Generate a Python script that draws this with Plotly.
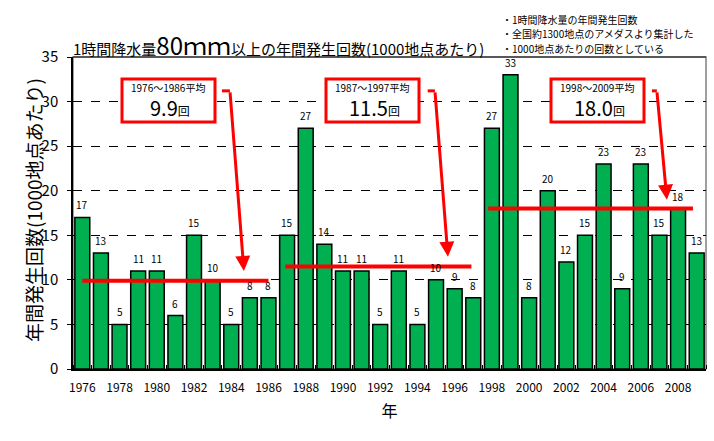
import plotly.graph_objects as go

# ---- data ----
years = list(range(1976, 2010))
counts = [17, 13, 5, 11, 11, 6, 15, 10, 5, 8, 8,
          15, 27, 14, 11, 11, 5, 11, 5, 10, 9, 8,
          27, 33, 8, 20, 12, 15, 23, 9, 23, 15, 18, 13]
periods = [(1976, 1986), (1987, 1997), (1998, 2009)]
tick_years = list(range(1976, 2010, 2))

title_pre = "1時間降水量"
title_big = "80ｍｍ"
title_post = "以上の年間発生回数(1000地点あたり)"
notes = ["・1時間降水量の年間発生回数",
         "・全国約1300地点のアメダスより集計した",
         "・1000地点あたりの回数としている"]
y_title = "年間発生回数(1000地点あたり)"
x_title = "年"

# ---- layout geometry (pixels) ----
W, H = 714, 441
L, R, T, B = 73, 8, 57, 72
PW, PH = W - L - R, H - T - B
FONT = "Noto Sans CJK JP"
GREEN = "#00B050"
RED = "#FF0000"


def px(x):
    return (x - L) / PW


def py(y):
    return (H - B - y) / PH


idx = list(range(len(years)))

fig = go.Figure()
fig.add_trace(go.Bar(
    x=idx, y=counts, width=0.8,
    marker=dict(color=GREEN, line=dict(color="black", width=1.5)),
    hoverinfo="skip"))

shapes = []
annotations = []

# value labels above bars
for i, v in zip(idx, counts):
    annotations.append(dict(x=i, y=v, xref="x", yref="y", text=str(v),
                            showarrow=False, yanchor="bottom", yshift=3,
                            font=dict(size=10, family=FONT, color="black")))

# plot frame (gray top/right)
shapes.append(dict(type="rect", xref="paper", yref="paper", x0=0, x1=1, y0=0, y1=1,
                   line=dict(color="#808080", width=1.5), layer="below"))
shapes.append(dict(type="line", xref="paper", yref="paper", x0=0, x1=1, y0=1, y1=1,
                   line=dict(color="#404040", width=1.5)))

# average lines
line_offsets = [0.0, -0.1, -0.2]
box_lefts = [122, 326, 551]
arrow_tails = [(7.93, 31.2), (18.94, 31.2), (30.86, 31.2)]
arrow_tips = [(8.68, 11.0), (19.64, 12.6), (31.4, 19.0)]
seg_starts = [7.5, 18.55, 30.6]
for k, (a, b) in enumerate(periods):
    vals = [c for yv, c in zip(years, counts) if a <= yv <= b]
    avg = round(sum(vals) / len(vals), 1)
    i0, i1 = years.index(a), years.index(b)
    shapes.append(dict(type="line", xref="x", yref="y",
                       x0=i0 + line_offsets[k], x1=i1 + line_offsets[k],
                       y0=avg, y1=avg, line=dict(color=RED, width=4)))
    # box
    bl = box_lefts[k]
    shapes.append(dict(type="rect", xref="paper", yref="paper",
                       x0=px(bl), x1=px(bl + 93), y0=py(122), y1=py(79),
                       line=dict(color=RED, width=3), fillcolor="white"))
    cx = bl + 46
    annotations.append(dict(xref="paper", yref="paper", x=px(cx), y=py(87),
                            text=f"{a}～{b}平均", showarrow=False,
                            font=dict(size=10, family=FONT, color="black"),
                            xanchor="center", yanchor="middle"))
    annotations.append(dict(xref="paper", yref="paper", x=px(cx + 2), y=py(107),
                            text=f"{avg:.1f}<span style='font-size:12px'>回</span>",
                            showarrow=False,
                            font=dict(size=20, family=FONT, color="black"),
                            xanchor="center", yanchor="middle"))
    # arrow
    tx, ty = arrow_tails[k]
    hx, hy = arrow_tips[k]
    shapes.append(dict(type="line", xref="x", yref="y", x0=seg_starts[k], x1=tx,
                       y0=ty, y1=ty, line=dict(color=RED, width=3)))
    annotations.append(dict(xref="x", yref="y", axref="x", ayref="y",
                            x=hx, y=hy, ax=tx, ay=ty, text="", showarrow=True,
                            arrowhead=2, arrowsize=1.0, arrowwidth=3, arrowcolor=RED))

# title
annotations.append(dict(xref="paper", yref="paper", x=px(71), y=py(45),
                        text=f"{title_pre}<span style='font-size:24px'>{title_big}</span>{title_post}",
                        showarrow=False, xanchor="left", yanchor="middle",
                        font=dict(size=15, family=FONT, color="black")))
for n, t in enumerate(notes):
    annotations.append(dict(xref="paper", yref="paper", x=px(500), y=py(19 + 14.5 * n),
                            text=t, showarrow=False, xanchor="left", yanchor="middle",
                            font=dict(size=10, family=FONT, color="black")))

# y axis title
annotations.append(dict(xref="paper", yref="paper", x=px(33), y=py(210),
                        text=y_title, textangle=-90, showarrow=False,
                        xanchor="center", yanchor="middle",
                        font=dict(size=19, family=FONT, color="black")))

fig.update_layout(
    width=W, height=H, margin=dict(l=L, r=R, t=T, b=B),
    paper_bgcolor="white", plot_bgcolor="white", showlegend=False,
    bargap=0.2, shapes=shapes, annotations=annotations,
    font=dict(family=FONT, color="black"),
    xaxis=dict(range=[-0.5, len(years) - 0.5], tickmode="array",
               tickvals=[years.index(y) for y in tick_years],
               ticktext=[str(y) for y in tick_years],
               tickfont=dict(size=12, family=FONT), ticks="", showgrid=False,
               ticklabelstandoff=7,
               showline=True, linecolor="black", linewidth=1.5,
               minor=dict(ticks="inside", tick0=-0.5, dtick=1, ticklen=4,
                          tickcolor="black", showgrid=False),
               title=dict(text=x_title, font=dict(size=16, family=FONT), standoff=12),
               zeroline=False),
    yaxis=dict(range=[0, 35], tickmode="linear", tick0=0, dtick=5,
               tickfont=dict(size=15, family=FONT), ticks="outside", ticklen=4,
               tickcolor="black", showline=True, linecolor="black", linewidth=1.5,
               showgrid=True, gridcolor="black", griddash="dash", gridwidth=1,
               ticklabelstandoff=6, zeroline=False),
)

fig.write_html("out.html")
